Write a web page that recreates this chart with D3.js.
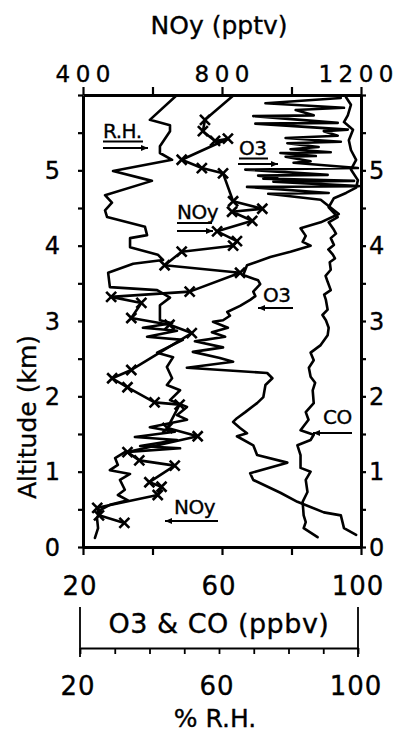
<!DOCTYPE html>
<html>
<head>
<meta charset="utf-8">
<script src="https://cdn.jsdelivr.net/npm/d3@7"></script>
<style>
  body { margin: 0; background: #fff; }
  svg text { font-family: "DejaVu Sans", sans-serif; fill: #000; stroke: #000; stroke-width: 0.35; }
</style>
</head>
<body>
<svg id="chart" width="401" height="734"></svg>
<script>
// ---- axis ticks and labels ----
const altitudeTicks = [0, 1, 2, 3, 4, 5];
const noyTickValues = [400, 600, 800, 1000, 1200];
const noyTickLabels = [400, 800, 1200];
const ppbvTickValues = [20, 40, 60, 80, 100];
const ppbvTickLabels = [20, 60, 100];
const rhTickValues = [20, 30, 40, 50, 60, 70, 80, 90, 100];
const rhTickLabels = [20, 60, 100];

// ---- profiles: [altitude km, value] ----
// relative humidity (%)
const relHumidity = [
  [6.00, 47.9], [5.67, 40.1], [5.60, 45.9], [5.52, 45.9], [5.32, 43.0], [5.23, 43.0],
  [5.14, 46.5], [4.99, 29.5], [4.86, 40.7], [4.67, 27.2], [4.57, 29.2], [4.47, 27.2],
  [4.38, 27.8], [4.25, 38.7], [4.14, 39.3], [4.10, 34.4], [3.98, 34.4], [3.88, 42.4],
  [3.81, 43.9], [3.76, 35.3], [3.64, 28.1], [3.45, 28.6], [3.41, 42.2], [3.31, 45.9],
  [3.21, 43.0], [3.01, 43.0], [2.97, 46.5], [2.91, 38.1], [2.87, 47.9], [2.79, 39.3],
  [2.75, 49.6], [2.58, 42.2], [2.52, 46.8], [2.39, 45.0], [2.24, 46.5], [2.15, 45.0],
  [2.08, 48.8], [1.95, 45.9], [1.86, 50.8], [1.75, 47.9], [1.69, 50.8], [1.59, 40.1],
  [1.53, 47.3], [1.46, 35.8], [1.42, 47.9], [1.34, 37.3], [1.31, 48.8], [1.26, 32.9],
  [1.18, 30.1], [1.09, 30.9], [1.02, 28.6], [0.97, 34.4], [0.89, 31.5], [0.76, 32.9],
  [0.69, 30.9], [0.62, 33.8], [0.56, 28.6], [0.49, 25.8], [0.38, 24.9], [0.25, 25.2],
  [0.12, 24.3]
];

// ozone (ppbv)
const ozone = [
  [5.96, 94.2], [5.89, 72.5], [5.83, 95.1], [5.80, 81.2], [5.73, 86.4], [5.72, 69.0],
  [5.63, 93.3], [5.62, 69.6], [5.54, 96.2], [5.52, 89.3], [5.46, 93.3], [5.43, 78.3],
  [5.38, 94.2], [5.36, 78.8], [5.31, 87.8], [5.28, 79.7], [5.24, 91.3], [5.23, 76.8],
  [5.19, 87.0], [5.18, 78.3], [5.12, 85.5], [5.10, 80.6], [5.03, 99.1], [5.01, 66.7],
  [4.94, 90.4], [4.93, 70.4], [4.90, 75.9], [4.89, 71.9], [4.86, 98.0], [4.85, 74.8],
  [4.79, 99.4], [4.78, 67.2], [4.70, 90.7], [4.69, 73.3], [4.61, 88.4], [4.42, 93.6],
  [4.31, 88.4], [4.23, 82.6], [4.13, 84.1], [4.05, 83.2], [4.00, 85.5], [3.92, 79.7],
  [3.85, 73.9], [3.74, 67.2], [3.61, 66.1], [3.54, 70.4], [3.49, 71.0], [3.39, 69.0],
  [3.33, 69.6], [3.28, 68.1], [3.20, 65.2], [3.12, 61.5], [3.07, 62.3], [3.01, 60.3],
  [2.99, 57.4], [2.91, 61.7], [2.85, 57.1], [2.79, 60.9], [2.73, 52.2], [2.65, 60.3],
  [2.59, 51.6], [2.51, 59.4], [2.46, 63.2], [2.38, 49.9], [2.31, 73.0], [2.24, 74.5],
  [2.15, 72.5], [1.99, 71.9], [1.91, 70.1], [1.79, 66.7], [1.71, 64.3], [1.66, 63.2],
  [1.58, 65.2], [1.51, 67.2], [1.47, 64.3], [1.35, 69.0], [1.22, 70.1], [1.12, 78.8],
  [0.98, 68.1], [0.89, 69.0], [0.72, 76.8], [0.60, 81.7], [0.46, 89.3], [0.42, 94.2],
  [0.25, 95.1], [0.16, 98.6]
];

// carbon monoxide (ppbv)
const carbonMonoxide = [
  [5.97, 95.7], [5.87, 97.1], [5.73, 96.2], [5.64, 95.1], [5.54, 97.7], [5.40, 96.5],
  [5.27, 97.1], [5.14, 98.6], [5.01, 97.1], [4.87, 99.1], [4.77, 98.6], [4.70, 95.7],
  [4.63, 92.2], [4.51, 90.7], [4.38, 93.3], [4.31, 90.7], [4.21, 92.2], [4.16, 92.8],
  [4.10, 91.3], [4.01, 92.2], [3.95, 90.6], [3.88, 91.9], [3.83, 92.5], [3.78, 91.0],
  [3.68, 91.3], [3.60, 89.8], [3.52, 90.4], [3.41, 91.3], [3.35, 89.4], [3.28, 89.9],
  [3.15, 90.4], [3.08, 88.9], [3.01, 89.9], [2.91, 90.7], [2.81, 90.4], [2.68, 88.4],
  [2.58, 85.5], [2.48, 86.4], [2.38, 85.0], [2.26, 85.5], [2.18, 86.8], [2.08, 86.1],
  [1.91, 86.4], [1.79, 84.1], [1.69, 84.9], [1.55, 82.6], [1.49, 86.4], [1.42, 85.5],
  [1.35, 81.7], [1.22, 82.6], [1.05, 82.6], [1.00, 85.5], [0.89, 84.1], [0.73, 84.6],
  [0.60, 83.2], [0.42, 83.5], [0.33, 84.1], [0.25, 83.5], [0.13, 87.5]
];

// total reactive nitrogen (pptv)
const noy = [
  [6.07, 852], [5.67, 751], [5.52, 745], [5.39, 780], [5.42, 817], [5.14, 684],
  [5.03, 742], [4.96, 803], [4.59, 832], [4.49, 916], [4.45, 829], [4.33, 887],
  [4.19, 786], [4.06, 843], [4.00, 832], [3.92, 684], [3.74, 635], [3.64, 852],
  [3.39, 707], [3.32, 481], [3.24, 568], [3.04, 539], [2.95, 649], [2.84, 713],
  [2.35, 539], [2.24, 484], [2.12, 528], [1.92, 606], [1.89, 678], [1.58, 643],
  [1.47, 730], [1.26, 528], [1.15, 562], [1.08, 664], [0.86, 591], [0.80, 626],
  [0.69, 615], [0.52, 441], [0.42, 446], [0.32, 519]
];

// ---- layout ----
const svg = d3.select("#chart");
const plot = { left: 83, right: 361, top: 95, bottom: 547 };

const y = d3.scaleLinear().domain([0, 6]).range([plot.bottom, plot.top]);
const xPpbv = d3.scaleLinear().domain([20, 100]).range([plot.left, plot.right]);
const xNoy = d3.scaleLinear().domain([400, 1200]).range([plot.left, plot.right]);
const xRh = d3.scaleLinear().domain([20, 100]).range([80, 358]);

const halfKm = d3.range(0, 6.01, 0.5);

function styleAxis(g, domainWidth, tickWidth) {
  g.select(".domain").attr("stroke", "#000").attr("stroke-width", domainWidth).attr("fill", "none");
  g.selectAll(".tick line").attr("stroke", "#000").attr("stroke-width", tickWidth);
  g.selectAll(".tick text").remove();
}

// frame axes
svg.append("g").attr("transform", `translate(0,${plot.top})`)
  .call(d3.axisTop(xNoy).tickValues(noyTickValues).tickSize(8).tickSizeOuter(0))
  .call(g => styleAxis(g, 3, 2.2));
svg.append("g").attr("transform", `translate(0,${plot.bottom})`)
  .call(d3.axisBottom(xPpbv).tickValues(ppbvTickValues).tickSize(8).tickSizeOuter(0))
  .call(g => styleAxis(g, 3, 2.2));
svg.append("g").attr("transform", `translate(${plot.left},0)`)
  .call(d3.axisLeft(y).tickValues(halfKm).tickSize(5).tickSizeOuter(0))
  .call(g => styleAxis(g, 3, 2.2));
svg.append("g").attr("transform", `translate(${plot.right},0)`)
  .call(d3.axisRight(y).tickValues(halfKm).tickSize(5).tickSizeOuter(0))
  .call(g => styleAxis(g, 3, 2.2));

// separate relative-humidity scale under the plot
const rhAxisY = 648;
svg.append("g").attr("transform", `translate(0,${rhAxisY})`)
  .call(d3.axisBottom(xRh).tickValues(rhTickValues).tickSize(6).tickSizeOuter(0))
  .call(g => styleAxis(g, 2.2, 1.8));
[20, 100].forEach(v => {
  svg.append("line")
    .attr("x1", xRh(v)).attr("x2", xRh(v))
    .attr("y1", 607).attr("y2", 657)
    .attr("stroke", "#000").attr("stroke-width", 1.8);
});

// ---- tick labels and titles ----
svg.append("text").attr("x", 219).attr("y", 34).attr("text-anchor", "middle")
  .attr("font-size", 25).text("NOy (pptv)");

// widely spaced numerals; the last one is pulled in so it stays on the page
const noySpacing = 5.5;
svg.selectAll(".noyLabel").data(noyTickLabels).join("text")
  .attr("x", d => Math.min(xNoy(d), 356) + noySpacing / 2).attr("y", 82)
  .attr("text-anchor", "middle").attr("font-size", 23)
  .attr("letter-spacing", noySpacing).text(d => d);

svg.selectAll(".altL").data(altitudeTicks).join("text")
  .attr("x", 60).attr("y", d => y(d)).attr("dy", "0.36em")
  .attr("text-anchor", "end").attr("font-size", 24).text(d => d);
svg.selectAll(".altR").data(altitudeTicks).join("text")
  .attr("x", 369).attr("y", d => y(d)).attr("dy", "0.36em")
  .attr("text-anchor", "start").attr("font-size", 24).text(d => d);

svg.append("text").attr("transform", `translate(36,${(plot.top + plot.bottom) / 2 + 96}) rotate(-90)`)
  .attr("text-anchor", "middle").attr("font-size", 25).text("Altitude (km)");

svg.selectAll(".ppbvLabel").data(ppbvTickLabels).join("text")
  .attr("x", d => xPpbv(d) - 3).attr("y", 595)
  .attr("text-anchor", "middle").attr("font-size", 26)
  .attr("letter-spacing", 1).text(d => d);

svg.append("text").attr("x", 219).attr("y", 633).attr("text-anchor", "middle")
  .attr("font-size", 27).attr("letter-spacing", 0.5).text("O3 & CO (ppbv)");

svg.selectAll(".rhLabel").data(rhTickLabels).join("text")
  .attr("x", d => xRh(d) - 2).attr("y", 695)
  .attr("text-anchor", "middle").attr("font-size", 26)
  .attr("letter-spacing", 1).text(d => d);

svg.append("text").attr("x", 215).attr("y", 727).attr("text-anchor", "middle")
  .attr("font-size", 25).text("% R.H.");

// ---- profiles ----
svg.append("clipPath").attr("id", "plotClip").append("rect")
  .attr("x", plot.left).attr("y", plot.top)
  .attr("width", plot.right - plot.left).attr("height", plot.bottom - plot.top);

const layer = svg.append("g").attr("clip-path", "url(#plotClip)");

function drawProfile(data, xScale) {
  layer.append("path").datum(data)
    .attr("fill", "none").attr("stroke", "#000")
    .attr("stroke-width", 2.6).attr("stroke-linejoin", "round").attr("stroke-linecap", "round")
    .attr("d", d3.line().x(d => xScale(d[1])).y(d => y(d[0])));
}

drawProfile(relHumidity, xRh);
drawProfile(ozone, xPpbv);
drawProfile(carbonMonoxide, xPpbv);
drawProfile(noy, xNoy);

layer.selectAll(".noyMark").data(noy.slice(1)).join("path")
  .attr("transform", d => `translate(${xNoy(d[1])},${y(d[0])})`)
  .attr("d", "M-5,-5L5,5M-5,5L5,-5")
  .attr("stroke", "#000").attr("stroke-width", 2.6).attr("fill", "none");

// ---- in-plot labels with pointers ----
function arrow(x1, x2, yy, headAtRight) {
  const tip = headAtRight ? x2 : x1;
  const tail = headAtRight ? x2 - 7 : x1 + 7;
  svg.append("line").attr("x1", x1).attr("x2", x2).attr("y1", yy).attr("y2", yy)
    .attr("stroke", "#000").attr("stroke-width", 1.8);
  svg.append("path")
    .attr("d", `M${tip},${yy}L${tail},${yy - 3}L${tail},${yy + 3}Z`)
    .attr("fill", "#000");
}
function underline(x1, x2, yy) {
  svg.append("line").attr("x1", x1).attr("x2", x2).attr("y1", yy).attr("y2", yy)
    .attr("stroke", "#000").attr("stroke-width", 2);
}
function tag(txt, xx, yy) {
  svg.append("text").attr("x", xx).attr("y", yy).attr("font-size", 20)
    .attr("letter-spacing", -0.5).text(txt);
}

tag("R.H.", 103, 138); underline(103, 143, 141.5); arrow(103, 148, 148, true);
tag("O3", 239, 155); underline(239, 268, 158.5); arrow(238, 278, 164, true);
tag("NOy", 177, 219); underline(177, 212, 223); arrow(177, 213, 231, true);
tag("O3", 263, 302); arrow(258, 293, 308, false);
tag("CO", 323, 424); arrow(313, 352, 433, false);
tag("NOy", 174, 514); arrow(165, 218, 521, false);
</script>
</body>
</html>
